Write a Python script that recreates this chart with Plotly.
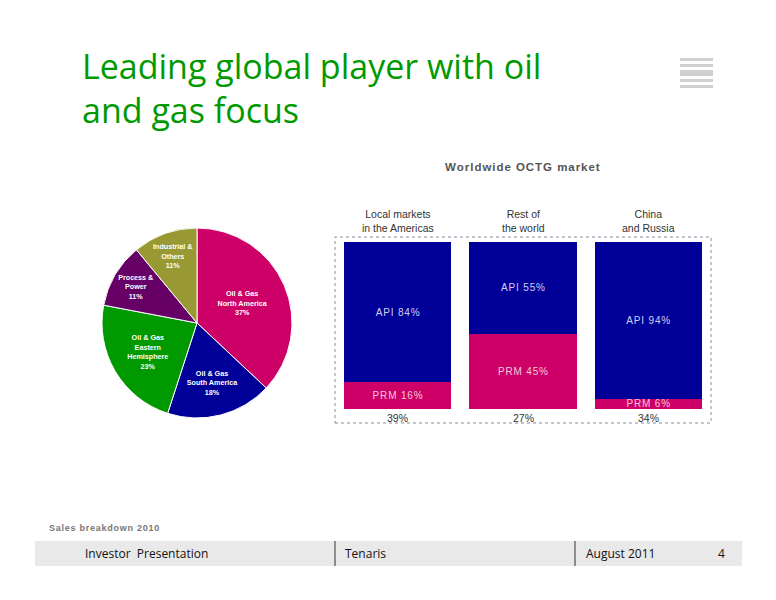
import plotly.graph_objects as go

W, H = 776, 600
OFF = 8  # page body margin
def px(x): return (x - OFF) / W
def py(y): return 1 - (y - OFF) / H

# Pie data (sales breakdown 2010)
pie_labels = ["Oil & Gas<br>North America", "Oil & Gas<br>South America", "Oil & Gas<br>Eastern<br>Hemisphere",
              "Process &<br>Power", "Industrial &<br>Others"]
pie_values = [37, 18, 23, 11, 11]
pie_colors = ["#CC0066", "#000099", "#009900", "#660066", "#999933"]

# OCTG market bars
bar_cats = ["Local markets<br>in the Americas", "Rest of<br>the world", "China<br>and Russia"]
prm_vals = [16, 45, 6]
api_vals = [84, 55, 94]
share_vals = ["39%", "27%", "34%"]

HS = "\u200A"
def spaced(s):
    return HS.join(list(s))

fig = go.Figure()

fig.add_trace(go.Pie(
    labels=pie_labels, values=pie_values, sort=False, direction="clockwise", rotation=0,
    marker=dict(colors=pie_colors, line=dict(color="white", width=1)),
    texttemplate="<b>%{label}<br>%{percent:.0%}</b>", textposition="inside",
    insidetextorientation="horizontal",
    textfont=dict(color="white", size=9, family="Liberation Sans"),
    domain=dict(x=[px(102), px(292)], y=[py(418), py(228)]),
    showlegend=False, hoverinfo="label+percent",
))

fig.add_trace(go.Bar(
    x=bar_cats, y=prm_vals, marker=dict(color="#CC0066", line=dict(width=0)),
    text=[spaced(f"PRM {v}%") for v in prm_vals], textposition="inside", insidetextanchor="middle",
    textfont=dict(color="#F4C8DC", size=10, family="Liberation Sans"), showlegend=False,
    xaxis="x", yaxis="y",
))
fig.add_trace(go.Bar(
    x=bar_cats, y=api_vals, marker=dict(color="#000099", line=dict(width=0)),
    text=[spaced(f"API {v}%") for v in api_vals], textposition="inside", insidetextanchor="middle",
    textfont=dict(color="#D0D0F0", size=10, family="Liberation Sans"), showlegend=False,
    xaxis="x", yaxis="y",
))

annotations = []
for i, c in enumerate(bar_cats):
    annotations.append(dict(x=c, y=100, xref="x", yref="y", text=c, showarrow=False,
                            yanchor="bottom", yshift=6,
                            font=dict(size=10.5, color="#333333", family="Liberation Sans")))
    annotations.append(dict(x=c, y=0, xref="x", yref="y", text=share_vals[i], showarrow=False,
                            yanchor="top", yshift=-1,
                            font=dict(size=10.5, color="#333333", family="Liberation Sans")))

annotations += [
    dict(x=px(80), y=py(41), xref="paper", yref="paper", xanchor="left", yanchor="top",
         text="Leading global player with oil<br>and gas focus", align="left", showarrow=False,
         font=dict(size=34, color="#009A00", family="Open Sans")),
    dict(x=px(522), y=py(167), xref="paper", yref="paper", xanchor="center", yanchor="middle",
         text="<b>" + spaced("Worldwide OCTG market") + "</b>", showarrow=False,
         font=dict(size=11.5, color="#555555", family="Liberation Sans")),
    dict(x=px(47), y=py(528), xref="paper", yref="paper", xanchor="left", yanchor="middle",
         text="<b>" + spaced("Sales breakdown 2010") + "</b>", showarrow=False,
         font=dict(size=9, color="#777777", family="Liberation Sans")),
    dict(x=px(83), y=py(553), xref="paper", yref="paper", xanchor="left", yanchor="middle",
         text="Investor  Presentation", showarrow=False,
         font=dict(size=12, color="#111111", family="Open Sans")),
    dict(x=px(343), y=py(553), xref="paper", yref="paper", xanchor="left", yanchor="middle",
         text="Tenaris", showarrow=False,
         font=dict(size=12, color="#111111", family="Open Sans")),
    dict(x=px(584), y=py(553), xref="paper", yref="paper", xanchor="left", yanchor="middle",
         text="August 2011", showarrow=False,
         font=dict(size=12, color="#111111", family="Open Sans")),
    dict(x=px(727), y=py(553), xref="paper", yref="paper", xanchor="right", yanchor="middle",
         text="4", showarrow=False,
         font=dict(size=12, color="#111111", family="Open Sans")),
]

shapes = [
    dict(type="rect", xref="paper", yref="paper", x0=px(335), x1=px(711), y0=py(423), y1=py(237),
         line=dict(color="#8A8AA0", width=1, dash="dot"), layer="below"),
    dict(type="rect", xref="paper", yref="paper", x0=px(35), x1=px(742), y0=py(566), y1=py(541),
         fillcolor="#E9E9E9", line=dict(width=0), layer="below"),
    dict(type="line", xref="paper", yref="paper", x0=px(335), x1=px(335), y0=py(566), y1=py(541),
         line=dict(color="#333333", width=1)),
    dict(type="line", xref="paper", yref="paper", x0=px(575), x1=px(575), y0=py(566), y1=py(541),
         line=dict(color="#333333", width=1)),
]
for y0, y1 in [(58, 61), (64, 67), (70, 76), (79, 82), (85, 88)]:
    shapes.append(dict(type="rect", xref="paper", yref="paper", x0=px(680), x1=px(713),
                       y0=py(y1), y1=py(y0), fillcolor="#D0D0D0", line=dict(width=0)))

fig.update_layout(
    width=W, height=H, autosize=False, margin=dict(l=0, r=0, t=0, b=0),
    paper_bgcolor="white", plot_bgcolor="white",
    barmode="stack", bargap=0.146,
    xaxis=dict(domain=[px(335), px(711)], showticklabels=False, showgrid=False, zeroline=False,
               showline=False, fixedrange=True),
    yaxis=dict(domain=[py(409), py(242)], range=[0, 100], showticklabels=False, showgrid=False,
               zeroline=False, showline=False, fixedrange=True),
    annotations=annotations, shapes=shapes,
    uniformtext=dict(minsize=7, mode="show"),
)

fig.write_html("out.html")
